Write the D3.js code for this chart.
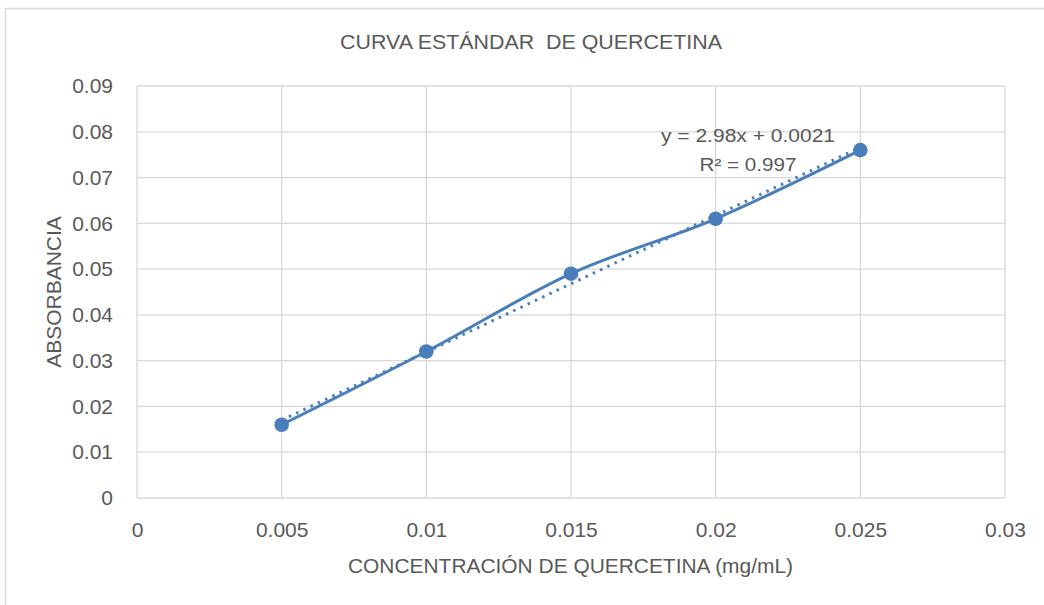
<!DOCTYPE html>
<html>
<head>
<meta charset="utf-8">
<script src="https://cdnjs.cloudflare.com/ajax/libs/d3/7.8.5/d3.min.js"></script>
<style>
  body { margin: 0; background: #fff; }
  svg { display: block; }
</style>
</head>
<body>
<div id="chart"></div>
<script>
// data
var concentrations = [0.005, 0.01, 0.015, 0.02, 0.025];
var absorbances = [0.016, 0.032, 0.049, 0.061, 0.076];
var xTicks = [0, 0.005, 0.01, 0.015, 0.02, 0.025, 0.03];
var yTicks = [0, 0.01, 0.02, 0.03, 0.04, 0.05, 0.06, 0.07, 0.08, 0.09];
var trendSlope = 2.98, trendIntercept = 0.0021;
var trendLabels = ['y = 2.98x + 0.0021', 'R² = 0.997'];

var width = 1044, height = 605,
    margin = {top: 86, right: 39, bottom: 107, left: 137},
    plotW = width - margin.left - margin.right,
    plotH = height - margin.top - margin.bottom,
    blue = '#4a7ebb',
    textColor = '#595959',
    font = '"Liberation Sans", Arial, sans-serif';

var svg = d3.select('#chart').append('svg')
    .attr('width', width)
    .attr('height', height);

// outer chart frame
svg.append('rect')
    .attr('x', 5.5).attr('y', 8.5)
    .attr('width', width + 20).attr('height', height + 20)
    .attr('fill', 'none')
    .attr('stroke', '#d9d9d9')
    .attr('stroke-width', 1.5);

var x = d3.scaleLinear().domain([0, 0.03]).range([0, plotW]);
var y = d3.scaleLinear().domain([0, 0.09]).range([plotH, 0]);

var g = svg.append('g').attr('transform', `translate(${margin.left},${margin.top})`);

// gridlines
g.selectAll('.vgrid').data(xTicks).enter().append('line')
    .attr('x1', d => x(d)).attr('x2', d => x(d))
    .attr('y1', 0).attr('y2', plotH)
    .attr('stroke', '#d9d9d9').attr('stroke-width', 1.3);

g.selectAll('.hgrid').data(yTicks).enter().append('line')
    .attr('x1', 0).attr('x2', plotW)
    .attr('y1', d => y(d)).attr('y2', d => y(d))
    .attr('stroke', '#d9d9d9').attr('stroke-width', 1.3);

// axes (labels only, Excel style)
var xAxis = g.append('g')
    .attr('transform', `translate(0,${plotH})`)
    .call(d3.axisBottom(x).tickValues(xTicks).tickSize(0).tickPadding(24).tickFormat(d => String(+d.toFixed(3))));
xAxis.select('.domain').remove();
xAxis.selectAll('text')
    .attr('fill', textColor)
    .style('font-family', font)
    .style('font-size', '21px');

var yAxis = g.append('g')
    .call(d3.axisLeft(y).tickValues(yTicks).tickSize(0).tickPadding(24).tickFormat(d => String(+d.toFixed(2))));
yAxis.select('.domain').remove();
yAxis.selectAll('text')
    .attr('fill', textColor)
    .style('font-family', font)
    .style('font-size', '21px');

var points = concentrations.map((c, i) => ({x: c, y: absorbances[i]}));

// linear trendline (dotted)
var trendX = d3.extent(concentrations);
g.append('line')
    .attr('x1', x(trendX[0])).attr('y1', y(trendSlope * trendX[0] + trendIntercept))
    .attr('x2', x(trendX[1])).attr('y2', y(trendSlope * trendX[1] + trendIntercept))
    .attr('stroke', blue)
    .attr('stroke-width', 3)
    .attr('stroke-dasharray', '2.5 5.5')
    .attr('stroke-linecap', 'butt');

// smoothed series line
var line = d3.line()
    .x(d => x(d.x))
    .y(d => y(d.y))
    .curve(d3.curveCardinal.tension(0));

g.append('path')
    .datum(points)
    .attr('d', line)
    .attr('fill', 'none')
    .attr('stroke', blue)
    .attr('stroke-width', 3);

g.selectAll('.dot').data(points).enter().append('circle')
    .attr('cx', d => x(d.x))
    .attr('cy', d => y(d.y))
    .attr('r', 7.3)
    .attr('fill', blue);

// trendline label
var eqCenter = 748 - margin.left;
g.append('text')
    .attr('x', eqCenter).attr('y', 142 - margin.top)
    .attr('text-anchor', 'middle')
    .attr('fill', textColor)
    .style('font-family', font)
    .style('font-size', '18px')
    .attr('textLength', 174).attr('lengthAdjust', 'spacingAndGlyphs')
    .text(trendLabels[0]);
g.append('text')
    .attr('x', eqCenter).attr('y', 171 - margin.top)
    .attr('text-anchor', 'middle')
    .attr('fill', textColor)
    .style('font-family', font)
    .style('font-size', '18px')
    .attr('textLength', 97).attr('lengthAdjust', 'spacingAndGlyphs')
    .text(trendLabels[1]);

// title
svg.append('text')
    .attr('x', 531).attr('y', 48.5)
    .attr('text-anchor', 'middle')
    .attr('fill', textColor)
    .style('font-family', font)
    .style('font-size', '19.5px')
    .style('white-space', 'pre')
    .attr('textLength', 382).attr('lengthAdjust', 'spacingAndGlyphs')
    .text('CURVA ESTÁNDAR  DE QUERCETINA');

// axis titles
svg.append('text')
    .attr('x', 570.5).attr('y', 573)
    .attr('text-anchor', 'middle')
    .attr('fill', textColor)
    .style('font-family', font)
    .style('font-size', '21px')
    .attr('textLength', 445).attr('lengthAdjust', 'spacingAndGlyphs')
    .text('CONCENTRACIÓN DE QUERCETINA (mg/mL)');

svg.append('text')
    .attr('transform', `translate(61,${margin.top + plotH / 2}) rotate(-90)`)
    .attr('text-anchor', 'middle')
    .attr('fill', textColor)
    .style('font-family', font)
    .style('font-size', '21px')
    .text('ABSORBANCIA');
</script>
</body>
</html>
